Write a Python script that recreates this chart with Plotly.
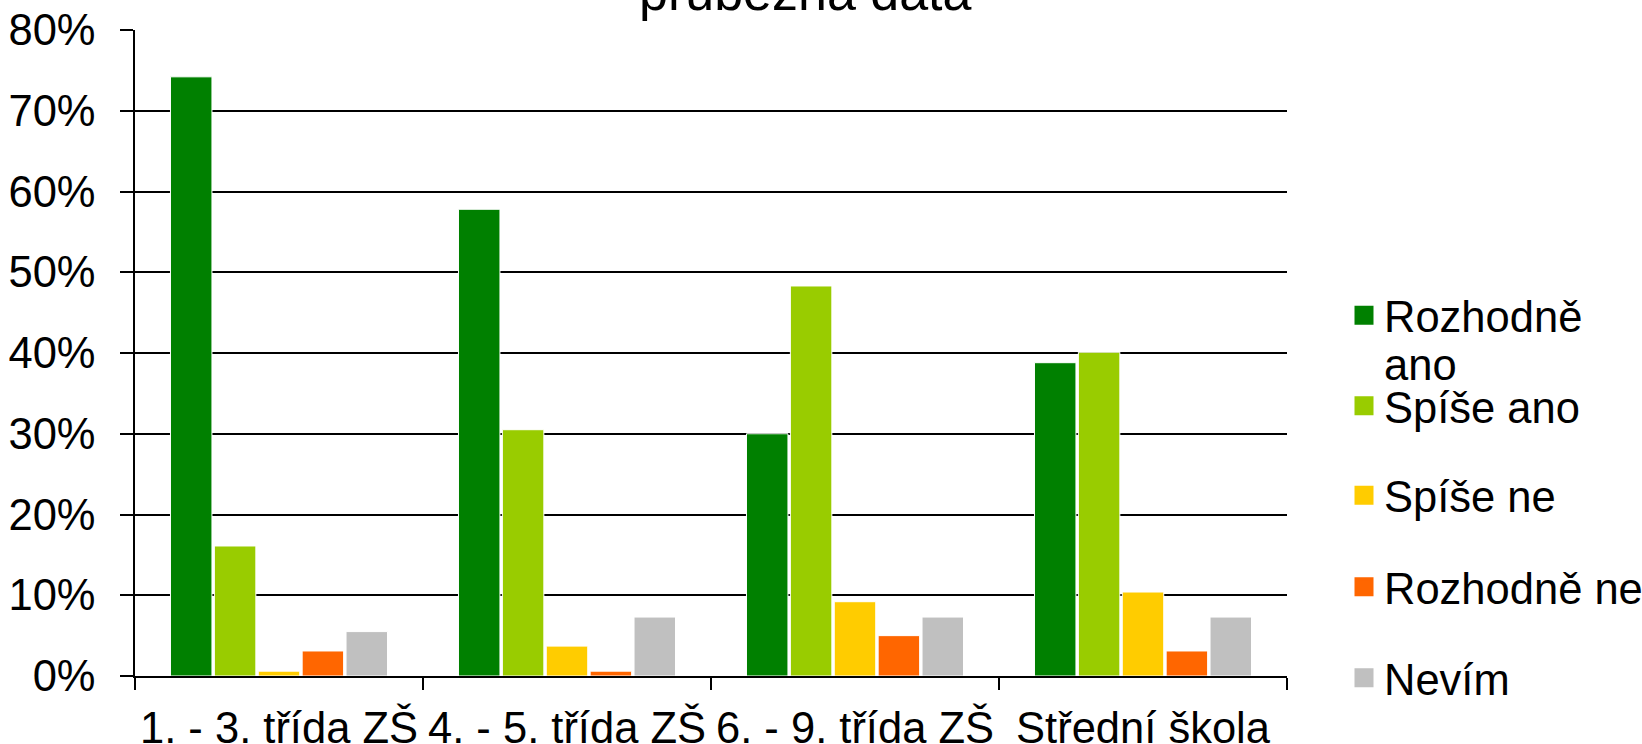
import plotly.graph_objects as go

categories = ["1. - 3. třída ZŠ", "4. - 5. třída ZŠ", "6. - 9. třída ZŠ", "Střední škola"]
series_names = ["Rozhodně ano", "Spíše ano", "Spíše ne", "Rozhodně ne", "Nevím"]
rozhodne_ano = [74.2, 57.8, 30.0, 38.8]
spise_ano = [16.1, 30.5, 48.3, 40.1]
spise_ne = [0.6, 3.7, 9.2, 10.4]
rozhodne_ne = [3.1, 0.6, 5.0, 3.1]
nevim = [5.5, 7.3, 7.3, 7.3]
y_ticks = [0, 10, 20, 30, 40, 50, 60, 70, 80]
title_text = "průběžná data"

series_values = [rozhodne_ano, spise_ano, spise_ne, rozhodne_ne, nevim]
# legend label lines (first label wraps onto two lines, as in the reference)
legend_lines = ["Rozhodně", "ano", "Spíše ano", "Spíše ne", "Rozhodně ne", "Nevím"]
colors = ["#008000", "#99CC00", "#FFCC00", "#FF6600", "#C0C0C0"]
legend_colors = ["#008000", "rgba(0,0,0,0)", "#99CC00", "#FFCC00", "#FF6600", "#C0C0C0"]

W, H = 1642, 744
ML, MR, MT, MB = 135, 355, 30, 68
FONT = "Liberation Sans, Arial, sans-serif"
FS = 43.5

fig = go.Figure()
for name, vals, col in zip(series_names, series_values, colors):
    fig.add_trace(go.Bar(
        x=categories, y=vals, name=name, showlegend=False,
        marker=dict(color=col, line=dict(color="white", width=1)),
    ))

legend_keys = ["legend", "legend2", "legend3", "legend4", "legend5", "legend6"]
for lab, col, lk in zip(legend_lines, legend_colors, legend_keys):
    fig.add_trace(go.Scatter(
        x=[None], y=[None], mode="markers", name=lab, legend=lk,
        marker=dict(symbol="square", size=16, color=col, line=dict(color=col, width=3)),
        hoverinfo="skip",
    ))

line_centers = [318, 366, 408.5, 498, 589.5, 680.5]
legend_x = 1344
layout_legends = {}
for lk, yc in zip(legend_keys, line_centers):
    layout_legends[lk] = dict(
        xref="container", yref="container",
        x=legend_x / W, xanchor="left",
        y=1 - (yc - 2.5) / H, yanchor="middle",
        font=dict(family=FONT, size=FS, color="black"),
        bgcolor="rgba(0,0,0,0)", borderwidth=0,
        itemsizing="trace",
    )

fig.update_layout(
    width=W, height=H,
    margin=dict(l=ML, r=MR, t=MT, b=MB, pad=0),
    paper_bgcolor="white", plot_bgcolor="white",
    barmode="group", bargap=0.238, bargroupgap=0.055,
    font=dict(family=FONT, color="black"),
    xaxis=dict(
        type="category", showgrid=False, automargin=False,
        showline=True, linecolor="black", linewidth=2,
        ticks="outside", tickson="boundaries", ticklen=12, tickwidth=1.5, tickcolor="black",
        ticklabelstandoff=13,
        tickfont=dict(family=FONT, size=FS, color="black"),
    ),
    yaxis=dict(
        range=[0, 80], tickvals=y_ticks, ticktext=[f"{v}%" for v in y_ticks],
        automargin=False,
        showgrid=True, gridcolor="black", gridwidth=1.5,
        showline=True, linecolor="black", linewidth=1.5,
        zeroline=False,
        ticks="outside", ticklen=13, tickwidth=1.5, tickcolor="black",
        ticklabelstandoff=16,
        tickfont=dict(family=FONT, size=FS, color="black"),
    ),
    annotations=[dict(
        text=title_text, xref="paper", yref="paper",
        x=(805 - ML) / (W - ML - MR), y=1 + (MT + 8) / (H - MT - MB),
        xanchor="center", yanchor="middle", showarrow=False,
        font=dict(family=FONT, size=52, color="black"),
    )],
    **layout_legends,
)

fig.write_html(
    "out.html",
    config={"displayModeBar": False},
    post_script="document.body.style.margin='0';document.body.style.overflow='hidden';",
)
